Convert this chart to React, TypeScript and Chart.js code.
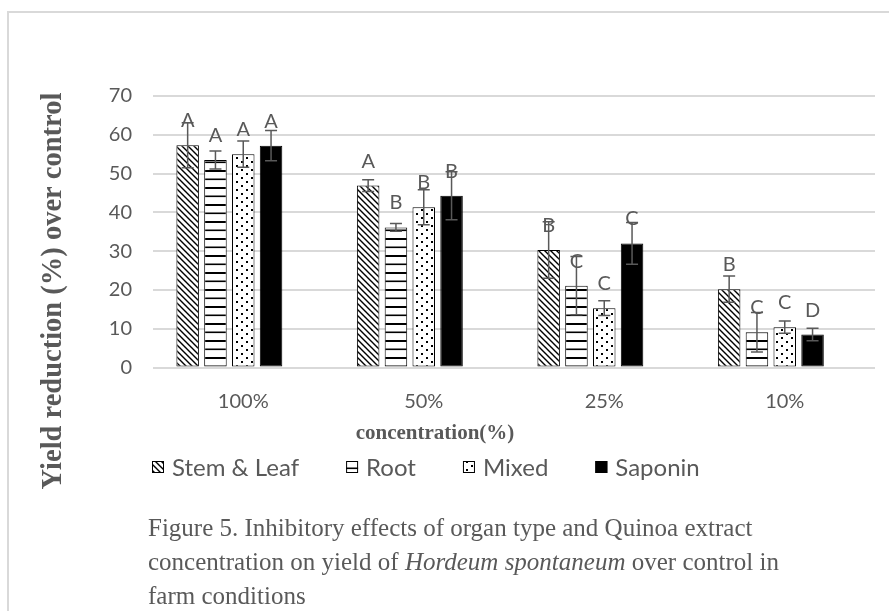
import React, { useEffect, useRef } from "react";
import { Chart, registerables } from "chart.js";

Chart.register(...registerables);

const categories = ["100%", "50%", "25%", "10%"];
const seriesNames = ["Stem & Leaf", "Root", "Mixed", "Saponin"];

const stemLeaf = [57.3, 46.9, 30.3, 20.2];
const root = [53.5, 36.1, 21.1, 9.1];
const mixed = [55.0, 41.3, 15.3, 10.4];
const saponin = [57.2, 44.3, 32.0, 8.5];

const stemLeafErr = [5.8, 1.5, 7.3, 3.4];
const rootErr = [2.3, 1.0, 7.5, 5.1];
const mixedErr = [3.4, 4.5, 1.9, 1.6];
const saponinErr = [3.9, 6.2, 5.4, 1.6];

const stemLeafLetters = ["A", "A", "B", "B"];
const rootLetters = ["A", "B", "C", "C"];
const mixedLetters = ["A", "B", "C", "C"];
const saponinLetters = ["A", "B", "C", "D"];

const yTicks = [0, 10, 20, 30, 40, 50, 60, 70];

const xTitle = "concentration(%)";
const yTitle = "Yield reduction (%) over control";

const GRAY = "#595959";

function makePatterns(ctx: CanvasRenderingContext2D) {
  const mk = (w: number, h: number, draw: (c: CanvasRenderingContext2D) => void) => {
    const c = document.createElement("canvas");
    c.width = w;
    c.height = h;
    const t = c.getContext("2d")!;
    t.fillStyle = "#fff";
    t.fillRect(0, 0, w, h);
    draw(t);
    return ctx.createPattern(c, "repeat")!;
  };
  const diag = mk(6, 6, (t) => {
    t.strokeStyle = "#000";
    t.lineWidth = 1.4;
    t.beginPath();
    t.moveTo(-1, -1);
    t.lineTo(7, 7);
    t.moveTo(-1, 5);
    t.lineTo(1, 7);
    t.moveTo(5, -1);
    t.lineTo(7, 1);
    t.stroke();
  });
  const horiz = mk(4, 17, (t) => {
    t.fillStyle = "#000";
    t.fillRect(0, 0, 4, 2);
    t.fillRect(0, 8.5, 4, 1.6);
  });
  const dots = mk(10, 8, (t) => {
    t.fillStyle = "#000";
    t.fillRect(1, 1, 2, 2);
    t.fillRect(6, 5, 2, 2);
  });
  return [diag, horiz, dots, "#000000"] as (CanvasPattern | string)[];
}

export default function App() {
  const ref = useRef<HTMLCanvasElement>(null);

  useEffect(() => {
    const canvas = ref.current!;
    const ctx0 = canvas.getContext("2d")!;
    const fills = makePatterns(ctx0);
    const values = [stemLeaf, root, mixed, saponin];
    const errs = [stemLeafErr, rootErr, mixedErr, saponinErr];
    const letters = [stemLeafLetters, rootLetters, mixedLetters, saponinLetters];

    const datasets: any[] = values.map((v, i) => ({
      label: seriesNames[i],
      data: v,
      backgroundColor: fills[i],
      borderColor: "#000",
      borderWidth: 1,
      borderSkipped: false,
    }));
    // empty fifth slot, as in the original Excel chart (shifts each group left)
    datasets.push({ label: "", data: categories.map(() => null), backgroundColor: "rgba(0,0,0,0)" });

    const annot = {
      id: "annot",
      afterDatasetsDraw(chart: any) {
        const c = chart.ctx;
        const y = chart.scales.y;
        c.save();
        for (let d = 0; d < 4; d++) {
          const meta = chart.getDatasetMeta(d);
          meta.data.forEach((bar: any, i: number) => {
            const v = values[d][i];
            const e = errs[d][i];
            const x = bar.x;
            const yt = y.getPixelForValue(v + e);
            const yb = y.getPixelForValue(v - e);
            c.strokeStyle = GRAY;
            c.lineWidth = 1.5;
            c.beginPath();
            c.moveTo(x, yt);
            c.lineTo(x, yb);
            c.moveTo(x - 6, yt);
            c.lineTo(x + 6, yt);
            c.moveTo(x - 6, yb);
            c.lineTo(x + 6, yb);
            c.stroke();
            c.fillStyle = GRAY;
            c.font = "20px Lato";
            c.textAlign = "center";
            c.textBaseline = "alphabetic";
            c.fillText(letters[d][i], x, y.getPixelForValue(v) - 18);
          });
        }
        c.restore();
      },
      afterDraw(chart: any) {
        const c = chart.ctx;
        c.save();
        // x title
        c.fillStyle = GRAY;
        c.font = "bold 21px 'Liberation Serif'";
        c.textAlign = "center";
        c.textBaseline = "alphabetic";
        c.fillText(xTitle, 435, 439);
        // y title
        c.save();
        c.translate(61, 291);
        c.rotate(-Math.PI / 2);
        c.font = "bold 28.5px 'Liberation Serif'";
        c.fillText(yTitle, 0, 0);
        c.restore();
        // legend
        c.font = "24px Lato";
        c.textAlign = "left";
        let x = 152;
        for (let i = 0; i < 4; i++) {
          c.fillStyle = fills[i] as any;
          c.fillRect(x, 461, 12, 12);
          c.strokeStyle = "#000";
          c.lineWidth = 1;
          c.strokeRect(x + 0.5, 461.5, 11, 11);
          c.fillStyle = GRAY;
          const tx = x + 20;
          c.fillText(seriesNames[i], tx, 475.5);
          x = tx + c.measureText(seriesNames[i]).width + 47;
        }
        c.restore();
      },
    };

    const chart = new Chart(canvas, {
      type: "bar",
      data: { labels: categories, datasets },
      options: {
        animation: false,
        responsive: false,
        devicePixelRatio: 1,
        layout: { padding: { left: 0, right: 14, top: 96, bottom: 183.5 } },
        datasets: { bar: { categoryPercentage: 0.77, barPercentage: 0.81 } },
        plugins: { legend: { display: false }, tooltip: { enabled: false }, title: { display: false } },
        scales: {
          x: {
            grid: { display: false },
            border: { display: false },
            ticks: { color: GRAY, font: { family: "Lato", size: 20 }, padding: 14 },
            afterFit: (s: any) => {
              s.height = 60;
            },
          },
          y: {
            min: 0,
            max: 70,
            afterBuildTicks: (s: any) => {
              s.ticks = yTicks.map((v) => ({ value: v }));
            },
            grid: { color: "#d9d9d9", lineWidth: 2, drawTicks: false },
            border: { display: false },
            ticks: { color: GRAY, font: { family: "Lato", size: 20 }, padding: 21 },
            afterFit: (s: any) => {
              s.width = 153;
            },
          },
        },
      },
      plugins: [annot],
    });
    return () => chart.destroy();
  }, []);

  return (
    <div style={{ position: "fixed", left: 0, top: 0, width: 889, height: 611, overflow: "hidden", background: "#fff" }}>
      <div
        style={{
          position: "absolute",
          left: 7,
          top: 11,
          width: 900,
          height: 700,
          borderTop: "2px solid #d9d9d9",
          borderLeft: "2px solid #d9d9d9",
        }}
      />
      <canvas ref={ref} width={889} height={611} style={{ position: "absolute", left: 0, top: 0 }} />
      <div
        style={{
          position: "absolute",
          left: 148,
          top: 511,
          fontFamily: "'Liberation Serif', serif",
          fontSize: 25,
          lineHeight: "34px",
          color: GRAY,
          whiteSpace: "nowrap",
        }}
      >
        <div>Figure 5. Inhibitory effects of organ type and Quinoa extract</div>
        <div>
          concentration on yield of <i>Hordeum spontaneum</i> over control in
        </div>
        <div>farm conditions</div>
      </div>
    </div>
  );
}
